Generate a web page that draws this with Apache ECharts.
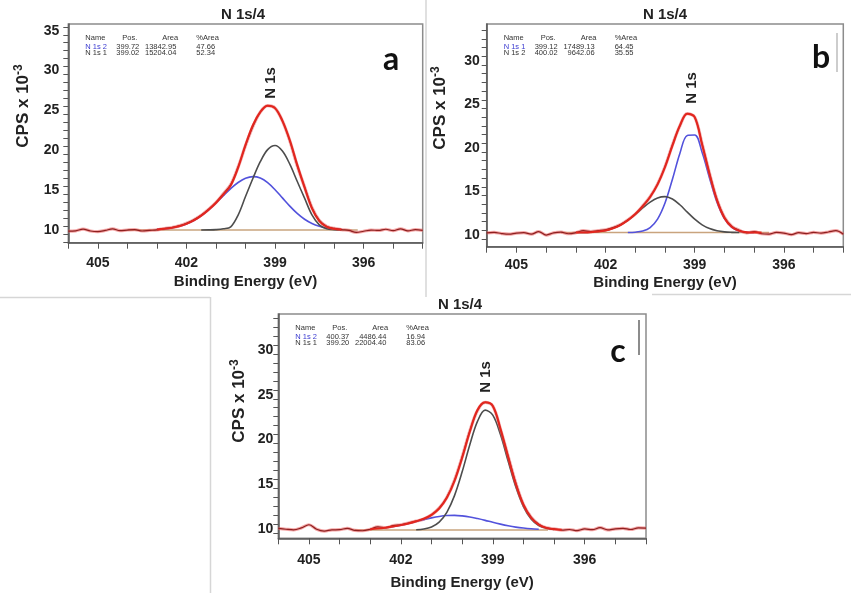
<!DOCTYPE html>
<html lang="en">
<head>
<meta charset="utf-8">
<title>N 1s XPS fits</title>
<script src="https://cdn.jsdelivr.net/npm/echarts@6.0.0/dist/echarts.min.js"></script>
<style>
  html, body { margin: 0; padding: 0; background: #fff; }
  #main { width: 851px; height: 593px; }
</style>
</head>
<body>
<div id="main"></div>
<script type="text/javascript">
// binding energy (eV) of the measured points, same for the three spectra
const energy = [406, 405.75, 405.5, 405.25, 405, 404.75, 404.5, 404.25, 404, 403.75, 403.5, 403.25, 403,
  402.75, 402.5, 402.25, 402, 401.75, 401.5, 401.25, 401, 400.75, 400.5, 400.25, 400,
  399.75, 399.5, 399.25, 399, 398.75, 398.5, 398.25, 398, 397.75, 397.5, 397.25, 397,
  396.75, 396.5, 396.25, 396, 395.75, 395.5, 395.25, 395, 394.75, 394.5, 394.25, 394];
// energy of the fitted curves (components + envelope)
const fitEnergy = [403, 402.75, 402.5, 402.25, 402, 401.75, 401.5, 401.25, 401, 400.75, 400.5, 400.25, 400,
  399.75, 399.5, 399.25, 399, 398.75, 398.5, 398.25, 398, 397.75, 397.5, 397.25, 397, 396.75];

// ---- panel a (CPS x 10^-3)
const rawA = [10.35, 10.40, 10.62, 10.38, 10.30, 10.45, 10.65, 10.42, 10.50, 10.55, 10.38, 10.45, 10.52,
  10.68, 10.80, 11.02, 11.35, 11.78, 12.35, 13.10, 13.95, 15.05, 16.20, 18.40, 21.10,
  23.50, 25.30, 26.10, 25.80, 24.20, 21.70, 18.60, 15.90, 13.30, 11.70, 10.95, 10.70,
  10.55, 10.45, 10.20, 10.35, 10.50, 10.45, 10.60, 10.42, 10.65, 10.40, 10.55, 10.45];
const envA = [10.58, 10.65, 10.77, 10.97, 11.27, 11.70, 12.30, 13.05, 13.93, 14.96, 16.10, 18.34, 21.19,
  23.67, 25.30, 26.10, 25.80, 24.20, 21.76, 18.70, 15.85, 13.22, 11.62, 10.90, 10.67, 10.58];
const n1s2A = [10.58, 10.65, 10.77, 10.97, 11.27, 11.70, 12.29, 13.03, 13.88, 14.81, 15.70, 16.46, 16.99,
  17.20, 17.03, 16.45, 15.56, 14.53, 13.50, 12.58, 11.85, 11.32, 10.97, 10.75, 10.62, 10.56];
const n1s1A = [null, null, null, null, null, null, 10.51, 10.52, 10.55, 10.65, 10.90, 12.38, 14.70,
  16.97, 19.07, 20.59, 21.10, 20.41, 18.76, 16.62, 14.50, 12.40, 11.15, 10.65, 10.55, 10.52];
const bgEnergyA = [404.0, 396.2];
const bgA = [10.5, 10.5];
const tableA = [['N 1s 2', '399.72', '13842.95', '47.66'], ['N 1s 1', '399.02', '15204.04', '52.34']];

// ---- panel b
const rawB = [10.70, 10.75, 10.62, 10.55, 10.68, 10.72, 10.55, 10.85, 10.45, 10.70, 10.78, 10.60, 10.72,
  10.95, 10.85, 10.95, 11.05, 11.30, 11.65, 12.20, 12.85, 13.80, 14.85, 16.30, 18.30,
  20.80, 23.00, 24.40, 24.00, 20.90, 17.50, 14.50, 12.50, 11.45, 11.00, 10.70, 10.85,
  10.60, 10.55, 10.75, 10.68, 10.50, 10.72, 10.62, 10.75, 10.68, 10.80, 10.95, 10.55];
const envB = [10.74, 10.75, 10.78, 10.85, 10.98, 11.22, 11.60, 12.15, 12.87, 13.74, 14.82, 16.27, 18.27,
  20.72, 23.03, 24.40, 24.00, 20.82, 17.45, 14.43, 12.42, 11.37, 10.93, 10.78, 10.74, 10.73];
const n1s1B = [null, null, null, null, null, null, null, 10.75, 10.78, 10.91, 11.31, 12.28, 14.13,
  16.86, 19.83, 21.90, 21.95, 19.93, 16.99, 14.22, 12.34, 11.34, 10.92, 10.78, 10.74, null];
const n1s2B = [10.74, 10.75, 10.78, 10.85, 10.98, 11.22, 11.60, 12.13, 12.82, 13.56, 14.24, 14.72, 14.87,
  14.59, 13.93, 13.08, 12.27, 11.62, 11.19, 10.94, 10.81, 10.76, 10.74, null, null, null];
const bgEnergyB = [403.5, 396.5];
const bgB = [10.73, 10.73];
const tableB = [['N 1s 1', '399.12', '17489.13', '64.45'], ['N 1s 2', '400.02', '9642.06', '35.55']];

// ---- panel c
const rawC = [10.55, 10.45, 10.38, 10.60, 10.95, 10.45, 10.25, 10.38, 10.40, 10.55, 10.32, 10.28, 10.45,
  10.72, 10.62, 10.85, 10.95, 11.15, 11.35, 11.60, 12.05, 12.80, 14.00, 15.90, 18.50,
  21.40, 23.70, 24.60, 24.20, 21.60, 18.60, 15.60, 13.20, 11.80, 11.00, 10.60, 10.50,
  10.35, 10.42, 10.30, 10.48, 10.40, 10.62, 10.38, 10.50, 10.55, 10.42, 10.60, 10.58];
const envC = [10.45, 10.52, 10.62, 10.75, 10.91, 11.10, 11.34, 11.63, 12.06, 12.76, 13.95, 15.83, 18.42,
  21.32, 23.74, 24.60, 24.20, 21.66, 18.52, 15.50, 13.19, 11.73, 10.95, 10.60, 10.45, 10.40];
const n1s2C = [null, null, 10.62, 10.75, 10.91, 11.10, 11.31, 11.52, 11.72, 11.88, 11.98, 12.00, 11.94,
  11.82, 11.64, 11.44, 11.22, 11.02, 10.84, 10.69, 10.58, 10.50, 10.45, null, null, null];
const n1s1C = [null, null, null, null, null, null, 10.40, 10.48, 10.71, 11.25, 12.34, 14.20, 16.85,
  19.87, 22.47, 23.73, 23.18, 21.01, 18.05, 15.18, 12.98, 11.60, 10.87, 10.55, 10.42, null];
const bgEnergyC = [403.5, 397.2];
const bgC = [10.37, 10.37];
const tableC = [['N 1s 2', '400.37', '4486.44', '16.94'], ['N 1s 1', '399.20', '22004.40', '83.06']];

const FONT = '"Liberation Sans", Arial, sans-serif';

// layout of the three plot frames (pixels) and their y ranges
const panels = [
  { left: 68.3, top: 24, width: 354.4, height: 218.7, yMin: 8.91, yMax: 36.35,
    xLabelMargin: 13, yLabelMargin: 9, nameGap: 39, title: [243, 15], letter: ['a', 391, 60],
    peak: [271, 83], cps: [23, 106],
    raw: rawA, env: envA, blue: n1s2A, black: n1s1A, bgE: bgEnergyA, bg: bgA, table: tableA },
  { left: 486.7, top: 24, width: 356.6, height: 222.7, yMin: 9.11, yMax: 34.71,
    xLabelMargin: 11, yLabelMargin: 7, nameGap: 36, title: [665, 15], letter: ['b', 821, 58],
    peak: [692, 88], cps: [440, 108],
    raw: rawB, env: envB, blue: n1s1B, black: n1s2B, bgE: bgEnergyB, bg: bgB, table: tableB },
  { left: 278.3, top: 314, width: 367.7, height: 224.3, yMin: 9.44, yMax: 34.45,
    xLabelMargin: 15, yLabelMargin: 5, nameGap: 45, title: [460, 305], letter: ['c', 618, 352],
    peak: [486, 377], cps: [239, 401],
    raw: rawC, env: envC, blue: n1s2C, black: n1s1C, bgE: bgEnergyC, bg: bgC, table: tableC }
];

const grid = [], xAxis = [], yAxis = [], series = [], graphic = [];

function pairs(xs, ys) { return xs.map((x, k) => [x, ys[k]]); }

function curve(i, xs, ys, color, width, z, extra) {
  return Object.assign({
    type: 'line', xAxisIndex: i, yAxisIndex: i, data: pairs(xs, ys),
    symbol: 'none', smooth: 0.35, silent: true, z: z,
    lineStyle: { color: color, width: width }
  }, extra || {});
}

function txt(x, y, text, font, fill, align, rot) {
  return {
    type: 'text', x: x, y: y, rotation: rot || 0, silent: true, z: 50,
    style: { text: text, font: font, fill: fill, align: align || 'center', textAlign: align || 'center',
      verticalAlign: 'middle', textVerticalAlign: 'middle' }
  };
}

panels.forEach((p, i) => {
  grid.push({ left: p.left, top: p.top, width: p.width, height: p.height,
    show: true, borderColor: '#8c8c8c', borderWidth: 1.5, backgroundColor: 'transparent' });
  xAxis.push({
    type: 'value', gridIndex: i, min: 394, max: 406, interval: 1, inverse: true,
    name: 'Binding Energy (eV)', nameLocation: 'middle', nameGap: p.nameGap,
    nameTextStyle: { fontFamily: FONT, fontSize: 15, fontWeight: 'bold', color: '#222', verticalAlign: 'middle' },
    axisLine: { lineStyle: { color: '#555', width: 1.5 } },
    axisTick: { length: 6, lineStyle: { color: '#555' } },
    axisLabel: { margin: p.xLabelMargin, fontFamily: FONT, fontSize: 14, fontWeight: 'bold', color: '#222',
      formatter: v => (v % 3 === 0 ? String(v) : '') },
    splitLine: { show: false }
  });
  yAxis.push({
    type: 'value', gridIndex: i, min: p.yMin, max: p.yMax,
    axisLine: { show: true, lineStyle: { color: '#555', width: 1.5 } },
    axisTick: { show: false }, axisLabel: { show: false }, splitLine: { show: false }
  });

  series.push(curve(i, p.bgE, p.bg, '#c9a47e', 1.5, 2, { smooth: false }));
  series.push(curve(i, fitEnergy, p.blue, '#5252dc', 1.6, 3));
  series.push(curve(i, fitEnergy, p.black, '#4d4d4d', 1.6, 4));
  series.push(curve(i, energy, p.raw, 'rgba(235,95,95,0.55)', 3.2, 5));
  series.push(curve(i, energy, p.raw, '#8e1f1f', 1.2, 6));
  series.push(curve(i, fitEnergy, p.env, '#e3261e', 2, 7));

  // titles, panel letter, peak label, y name
  graphic.push(txt(p.title[0], p.title[1], 'N 1s/4', 'bold 15px ' + FONT, '#222'));
  graphic.push(txt(p.letter[1], p.letter[2], p.letter[0], 'bold 32px Lato, "Open Sans", sans-serif', '#111'));
  graphic.push(txt(p.peak[0], p.peak[1], 'N 1s', 'bold 15px ' + FONT, '#222', 'center', Math.PI / 2));
  graphic.push({
    type: 'text', x: p.cps[0], y: p.cps[1], rotation: Math.PI / 2, silent: true, z: 50,
    style: {
      text: '{m|CPS x 10}{s|-3}', align: 'center', textAlign: 'center',
      verticalAlign: 'middle', textVerticalAlign: 'middle',
      rich: {
        m: { fontFamily: FONT, fontSize: 17, fontWeight: 'bold', fill: '#222', lineHeight: 20 },
        s: { fontFamily: FONT, fontSize: 12, fontWeight: 'bold', fill: '#222', verticalAlign: 'top', lineHeight: 12 }
      }
    }
  });

  // fit table
  const tf = '7.5px ' + FONT;
  const x0 = p.left + 17, y0 = p.top + 14;
  [['Name', 0], ['Pos.', 37], ['Area', 77], ['%Area', 111]].forEach(h => {
    graphic.push(txt(x0 + h[1], y0, h[0], tf, '#333', 'left'));
  });
  p.table.forEach((row, r) => {
    const y = y0 + 8.5 + r * 6.5;
    const c = r === 0 ? '#3a3ad0' : '#333';
    graphic.push(txt(x0, y, row[0], tf, c, 'left'));
    graphic.push(txt(x0 + 31, y, row[1], tf, '#333', 'left'));
    graphic.push(txt(x0 + 91, y, row[2], tf, '#333', 'right'));
    graphic.push(txt(x0 + 111, y, row[3], tf, '#333', 'left'));
  });
});

// second set of grids carrying only the y ticks/labels, aligned on whole numbers
panels.forEach((p, i) => {
  const tMin = Math.ceil(p.yMin), tMax = Math.floor(p.yMax);
  const k = p.height / (p.yMax - p.yMin);
  const gi = panels.length + i;
  grid.push({ left: p.left, width: p.width, top: p.top + (p.yMax - tMax) * k, height: (tMax - tMin) * k });
  xAxis.push({ type: 'value', gridIndex: gi, show: false, min: 0, max: 1 });
  yAxis.push({
    type: 'value', gridIndex: gi, min: tMin, max: tMax, interval: 1,
    axisLine: { show: false },
    axisTick: { show: true, length: 5, lineStyle: { color: '#555' } },
    axisLabel: { margin: p.yLabelMargin, fontFamily: FONT, fontSize: 14, fontWeight: 'bold', color: '#222',
      verticalAlign: 'bottom', lineHeight: 8, formatter: v => (v % 5 === 0 ? String(v) : '') },
    splitLine: { show: false }
  });
});

// thin borders left over from the source figure
[[426, 0, 426, 297, '#d6d6d6'], [0, 297.5, 210, 297.5, '#d6d6d6'], [210.5, 297, 210.5, 593, '#d6d6d6'],
 [652, 294.5, 851, 294.5, '#d6d6d6'], [837, 33, 837, 72, '#bdbdbd'], [639, 320, 639, 355, '#666']].forEach(l => {
  graphic.push({ type: 'line', silent: true, z: 40, shape: { x1: l[0], y1: l[1], x2: l[2], y2: l[3] },
    style: { stroke: l[4], lineWidth: 1.5 } });
});

const chart = echarts.init(document.getElementById('main'));
chart.setOption({
  animation: false,
  backgroundColor: '#fff',
  grid: grid, xAxis: xAxis, yAxis: yAxis, series: series, graphic: graphic
});
</script>
</body>
</html>
